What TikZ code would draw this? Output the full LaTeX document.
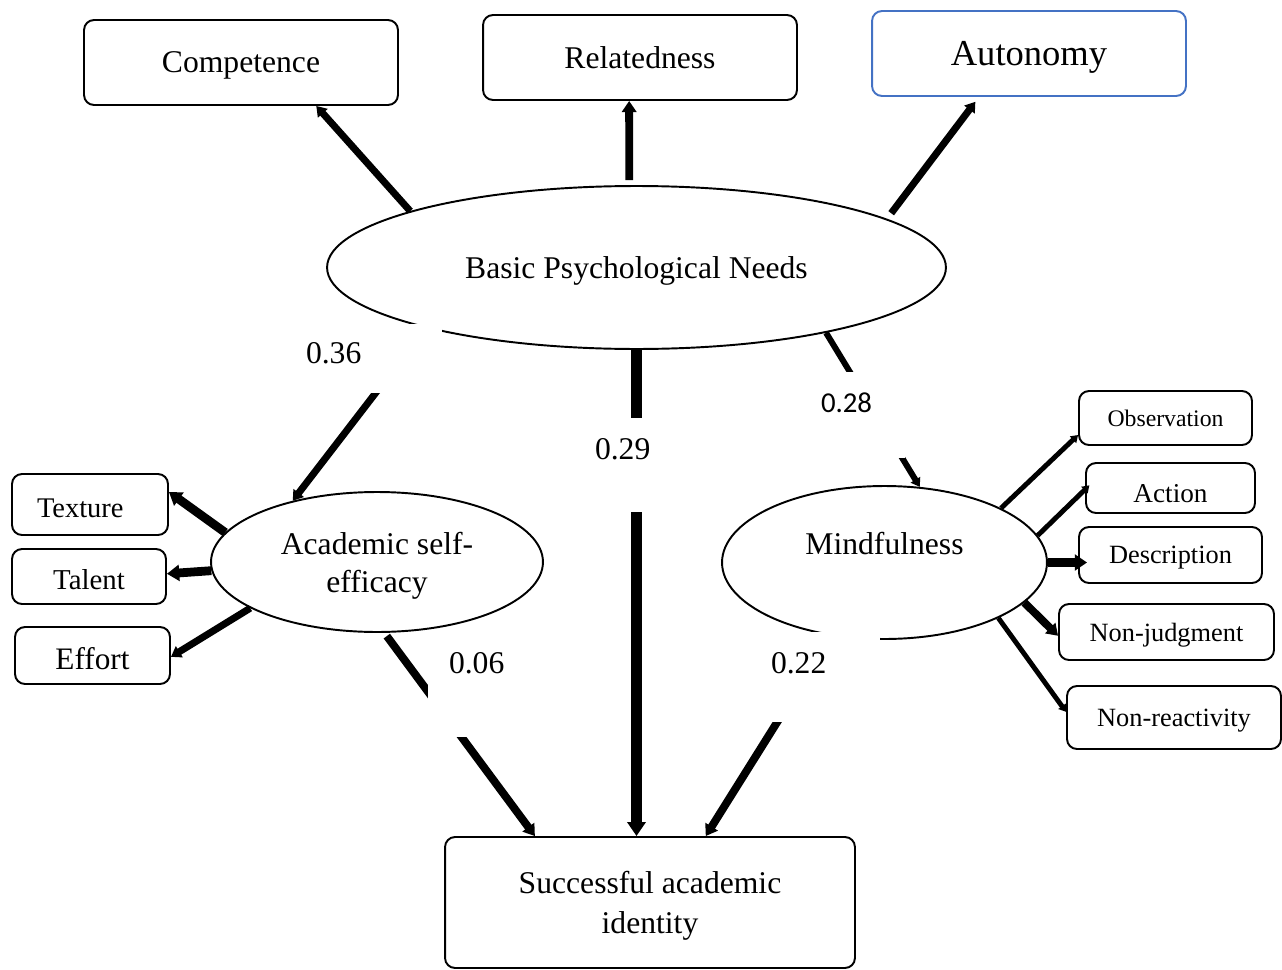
\documentclass[tikz,border=0pt]{standalone}
\usepackage{fontspec}
\setmainfont{Liberation Serif}
\newfontfamily\calibrifont{Carlito}
\usetikzlibrary{shapes.geometric}
\usetikzlibrary{arrows.meta}
\definecolor{autblue}{HTML}{4472C4}

\begin{document}
\begin{tikzpicture}[x=0.02cm, y=-0.02cm,
  box/.style={draw, rounded corners=0.2cm, line width=1.1pt, align=center, text depth=0pt, font=\fontsize{18}{22.7}\selectfont},
  latent/.style={draw, ellipse, line width=1.1pt, align=center, text depth=0pt, font=\fontsize{18}{21.6}\selectfont},
  arw/.style={line width=#1, -{Triangle[length=0pt 1.4, width=0pt 1.8]}},
  arw/.default=4pt,
  num/.style={fill=white, anchor=text, inner sep=0pt, align=left, font=\fontsize{18}{21.6}\selectfont}]
\useasboundingbox (0,0) rectangle (1282,970);
%needs
\node [box, minimum width=6.28cm, minimum height=1.7cm] (comp) at (241,62.5) {Competence};
\node [box, minimum width=6.28cm, minimum height=1.7cm] (rel) at (640,57.5) {Relatedness};
\node [box, draw=autblue, minimum width=6.28cm, minimum height=1.7cm, font=\fontsize{20.8}{25}\selectfont] (aut) at (1029,53.5) {Autonomy};
%latent variables
\node [latent, minimum width=12.38cm, minimum height=3.26cm] (bpn) at (636.5,267.5) {Basic Psychological Needs};
\node [latent, minimum width=6.64cm, minimum height=2.8cm] (ase) at (377,562) {Academic self-\\efficacy};
\node [latent, minimum width=6.5cm, minimum height=3.06cm, text depth=22pt] (mind) at (884.5,562.5) {Mindfulness};
\node [box, minimum width=8.2cm, minimum height=2.62cm] (sai) at (650,902.5) {Successful academic\\identity};
%self-efficacy items
\node [box, minimum height=1.22cm, text width=2.12cm, inner xsep=0.5cm, align=left, text height=14.5pt, font=\fontsize{16.2}{19}\selectfont] (tex) at (90,504.5) {Texture};
\node [box, minimum width=3.08cm, minimum height=1.1cm, text height=14.5pt, font=\fontsize{16.4}{19}\selectfont] (tal) at (89,576.5) {Talent};
\node [box, minimum width=3.1cm, minimum height=1.14cm, text height=15.5pt, font=\fontsize{17.8}{21}\selectfont] (eff) at (92.5,655.5) {Effort};
%mindfulness items
\node [box, minimum width=3.46cm, minimum height=1.08cm, font=\fontsize{13.5}{16}\selectfont] (obs) at (1165.5,418) {Observation};
\node [box, minimum width=3.38cm, minimum height=1.0cm, font=\fontsize{15.5}{18}\selectfont, text height=17pt] (act) at (1170.5,488) {Action};
\node [box, minimum width=3.66cm, minimum height=1.12cm, font=\fontsize{15}{18}\selectfont] (des) at (1170.5,555) {Description};
\node [box, minimum width=4.3cm, minimum height=1.12cm, font=\fontsize{15}{18}\selectfont] (nj) at (1166.5,632) {Non-judgment};
\node [box, minimum width=4.28cm, minimum height=1.26cm, font=\fontsize{15}{18}\selectfont] (nr) at (1174,717.5) {Non-reactivity};
%arrows to needs
\draw [arw=4pt] (bpn.166.6) -- (comp.-30.6);
\draw [arw=4.5pt, shorten <=0.1cm] (bpn.95) -- (rel.-104.5);
\draw [arw=4pt, shorten <=0.14cm, shorten >=0.12cm] (bpn.11) -- (aut.-139);
%paths
\draw [arw=4pt] (bpn.196.2) -- (ase.144.5);
\draw [arw=5.7pt] (bpn.south) -- (bpn.south |- sai.north);
\draw [arw=3.4pt] (bpn.-19.25) -- (mind.65.6);
\draw [arw=4.5pt, shorten <=0.08cm] (ase.-84) -- (sai.150.3);
\draw [arw=4.5pt] (mind.-126.1) -- (sai.50);
%arrows to items
\draw [arw=5pt] (ase.169) -- (tex.9.1);
\draw [arw=5pt] (ase.183.8) -- (tal.2.6);
\draw [arw=4pt] (ase.200) -- (eff.-1);
\draw [arw=2.8pt] (mind.25.2) -- (obs.191.8);
\draw [arw=2.8pt, shorten >=-0.12cm] (mind.10.5) -- (act.181.4);
\draw [arw=5pt, shorten >=-0.18cm] (mind.east) -- (mind.east -| des.west);
\draw [arw=4.5pt] (mind.-16.5) -- (nj.182.2);
\draw [arw=2.8pt] (mind.-26.2) -- (nr.177);
%coefficients
\node [num, inner xsep=0.22cm, text width=2.5cm, text height=0.78cm, text depth=0.6cm] (l36) at (306,363) {0.36};
\node [num, text height=0.82cm, text depth=1.06cm] (l29) at (595,459) {0.29};
\node [num, font=\calibrifont\fontsize{16.4}{19.7}\selectfont, text width=1.68cm, text height=0.8cm, text depth=0.92cm] (l28) at (821,412) {0.28};
\node [num, inner xsep=0.42cm, text height=0.62cm, text depth=1.28cm] (l06) at (449,673) {0.06};
\node [num, inner xsep=0.2cm, text width=1.98cm, text height=0.82cm, text depth=0.98cm] (l22) at (771,673) {0.22};
\end{tikzpicture}
\end{document}
